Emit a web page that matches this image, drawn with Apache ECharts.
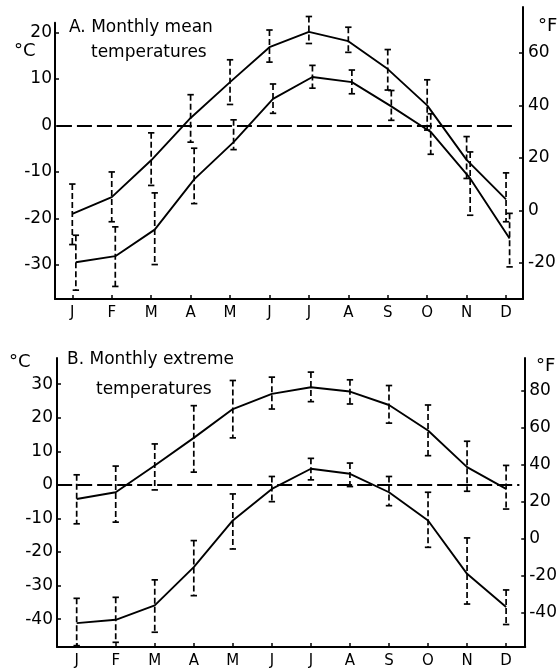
<!DOCTYPE html>
<html><head><meta charset="utf-8">
<script src="https://cdn.jsdelivr.net/npm/echarts@6/dist/echarts.min.js"></script>
<style>html,body{margin:0;padding:0;background:#fff}#c{width:560px;height:669px}</style>
</head><body><div id="c"></div>
<script>
const months = ['J','F','M','A','M','J','J','A','S','O','N','D'];
// Panel A: monthly mean temperatures (°C)
const meanUpper     = [-19.0,-15.4,-7.5, 1.6, 9.3,16.8,20.1,18.1,12.1, 4.3, -7.4,-15.9];
const meanUpperHigh = [-12.6,-10.0,-1.6, 6.6,14.1,20.5,23.4,21.1,16.3, 9.8, -2.4,-10.2];
const meanUpperLow  = [-25.6,-20.7,-12.9,-3.6, 4.5,13.6,17.6,15.7, 7.6,-1.0,-11.4,-20.7];
const meanLower     = [-29.4,-28.1,-22.4,-11.6,-3.6, 5.7,10.4, 9.3, 4.1,-1.4,-11.4,-24.3];
const meanLowerHigh = [-23.6,-21.8,-14.5,-4.9, 1.2, 8.9,12.9,11.9, 7.5, 2.5, -5.7,-18.9];
const meanLowerLow  = [-35.4,-34.6,-29.9,-16.8,-5.2, 2.6, 8.0, 6.8, 1.1,-6.2,-19.3,-30.4];
// Panel B: monthly extreme temperatures (°C)
const extUpper     = [-4.2, -2.2,  5.8, 14.0, 22.6, 27.1, 29.1, 27.8, 23.8, 16.2,  5.3, -1.2];
const extUpperHigh = [ 3.0,  5.6, 12.2, 23.6, 31.1, 32.1, 33.6, 31.3, 29.6, 23.8, 13.0,  5.8];
const extUpperLow  = [-11.6,-11.1,-1.5,  3.8, 14.0, 22.6, 24.8, 24.1, 18.4,  8.7, -1.9, -7.2];
const extLower     = [-41.2,-40.2,-35.9,-24.5,-10.6, -1.2,  4.8,  3.3, -2.2,-10.6,-26.5,-36.4];
const extLowerHigh = [-33.8,-33.5,-28.3,-16.6, -2.7,  2.5,  7.9,  6.5,  2.5, -2.2,-15.8,-31.3];
const extLowerLow  = [-47.9,-46.9,-43.9,-33.0,-19.1, -5.0,  1.5, -0.5, -6.2,-18.6,-35.5,-41.6];
// tick labels
const cTicksA = [-30,-20,-10,0,10,20];
const fTicksA = [-20,0,20,40,60];
const cTicksB = [-40,-30,-20,-10,0,10,20,30];
const fTicksB = [-40,-20,0,20,40,60,80];
const monthIdx = months.map((m,i)=>i);

const FONT = 'DejaVu Sans';
const BLACK = '#000';

function pts(vals, off){ return vals.map((v,i)=>[i+off, v]); }
function bars(lo, hi, off){ return lo.map((v,i)=>[i+off, v, hi[i]]); }

function errRender(params, api){
  const x = api.value(0);
  const hi = api.coord([x, api.value(2)]);
  const lo = api.coord([x, api.value(1)]);
  const w = 3.2;
  const st = {stroke: BLACK, lineWidth: 1.7, fill: null};
  return {type:'group', children:[
    {type:'line', shape:{x1:hi[0],y1:hi[1],x2:lo[0],y2:lo[1]}, style:Object.assign({lineDash:[6,3]}, st)},
    {type:'line', shape:{x1:hi[0]-w,y1:hi[1],x2:hi[0]+w,y2:hi[1]}, style:st},
    {type:'line', shape:{x1:lo[0]-w,y1:lo[1],x2:lo[0]+w,y2:lo[1]}, style:st}
  ]};
}

const axisLineStyle = {show:true, onZero:false, lineStyle:{color:BLACK, width:2}};
const tickStyle = {lineStyle:{color:BLACK, width:1.5}};
const labelStyle = {color:BLACK, fontFamily:FONT, fontSize:17};

function monthAxis(grid, min, max, show){
  return {type:'value', gridIndex:grid, position:'bottom', min:min, max:max, show:show,
    axisLine: axisLineStyle, splitLine:{show:false},
    axisTick:Object.assign({show:true, inside:true, length:4, customValues:monthIdx}, tickStyle),
    axisLabel:{color:BLACK, fontFamily:FONT, fontSize:15, margin:7, customValues:monthIdx,
      formatter:v=>months[Math.round(v)]}};
}
function valAxis(grid, pos, min, max, ticks, margin){
  return {type:'value', gridIndex:grid, position:pos, min:min, max:max,
    axisLine: axisLineStyle, splitLine:{show:false},
    axisTick:Object.assign({show:true, inside:true, length:4, customValues:ticks}, tickStyle),
    axisLabel:Object.assign({margin:margin, customValues:ticks}, labelStyle)};
}

const xA = [-0.439, 11.43];
const xB = [-0.504, 11.49];
const offA = 0.09;
const zeroLineStyle = {color:BLACK, width:2, type:[15,5]};
const tStyle = (size)=>({fontFamily:FONT, fontSize:size, fontWeight:'normal', color:BLACK});

const option = {
  backgroundColor:'#fff',
  animation:false,
  title:[
    {text:'A. Monthly mean', left:69, top:19, padding:0, textStyle:tStyle(17)},
    {text:'temperatures', left:91, top:44, padding:0, textStyle:tStyle(17)},
    {text:'°C', left:14, top:42, padding:0, textStyle:tStyle(18)},
    {text:'°F', left:538, top:17, padding:0, textStyle:tStyle(18)},
    {text:'B. Monthly extreme', left:67, top:351, padding:0, textStyle:tStyle(17)},
    {text:'temperatures', left:96, top:381, padding:0, textStyle:tStyle(17)},
    {text:'°C', left:9, top:353, padding:0, textStyle:tStyle(18)},
    {text:'°F', left:536, top:357, padding:0, textStyle:tStyle(18)}
  ],
  grid:[
    {left:55, right:37, top:22.7, bottom:370},
    {left:55, right:37, top:7, bottom:370},
    {left:57, right:34, top:358, bottom:22}
  ],
  xAxis:[
    monthAxis(0, xA[0], xA[1], true),
    monthAxis(1, xA[0], xA[1], false),
    monthAxis(2, xB[0], xB[1], true)
  ],
  yAxis:[
    valAxis(0, 'left', -37.3, 22.07, cTicksA, 3),
    valAxis(1, 'right', -33.7, 77.5, fTicksA, 5),
    valAxis(2, 'left', -48.3, 37.8, cTicksB, 4),
    valAxis(2, 'right', -58.6, 97.8, fTicksB, 4)
  ],
  series:[
    {type:'line', xAxisIndex:0, yAxisIndex:0, data:pts(meanUpper,0), symbol:'none',
      lineStyle:{color:BLACK, width:1.9},
      markLine:{silent:true, symbol:'none', label:{show:false}, lineStyle:zeroLineStyle,
        data:[[{coord:[-0.39,0]},{coord:[11.18,0]}]]}},
    {type:'line', xAxisIndex:0, yAxisIndex:0, data:pts(meanLower,offA), symbol:'none',
      lineStyle:{color:BLACK, width:1.9}},
    {type:'custom', xAxisIndex:0, yAxisIndex:0, renderItem:errRender, data:bars(meanUpperLow, meanUpperHigh, 0), encode:{x:0, y:[1,2]}, clip:false},
    {type:'custom', xAxisIndex:0, yAxisIndex:0, renderItem:errRender, data:bars(meanLowerLow, meanLowerHigh, offA), encode:{x:0, y:[1,2]}, clip:false},
    {type:'line', xAxisIndex:2, yAxisIndex:2, data:pts(extUpper,0), symbol:'none',
      lineStyle:{color:BLACK, width:1.9},
      markLine:{silent:true, symbol:'none', label:{show:false}, lineStyle:zeroLineStyle,
        data:[[{coord:[-0.5,0]},{coord:[11.34,0]}]]}},
    {type:'line', xAxisIndex:2, yAxisIndex:2, data:pts(extLower,0), symbol:'none',
      lineStyle:{color:BLACK, width:1.9}},
    {type:'custom', xAxisIndex:2, yAxisIndex:2, renderItem:errRender, data:bars(extUpperLow, extUpperHigh, 0), encode:{x:0, y:[1,2]}, clip:false},
    {type:'custom', xAxisIndex:2, yAxisIndex:2, renderItem:errRender, data:bars(extLowerLow, extLowerHigh, 0), encode:{x:0, y:[1,2]}, clip:false}
  ]
};
const chart = echarts.init(document.getElementById('c'), null, {renderer:'canvas'});
chart.setOption(option);
</script>
</body></html>
